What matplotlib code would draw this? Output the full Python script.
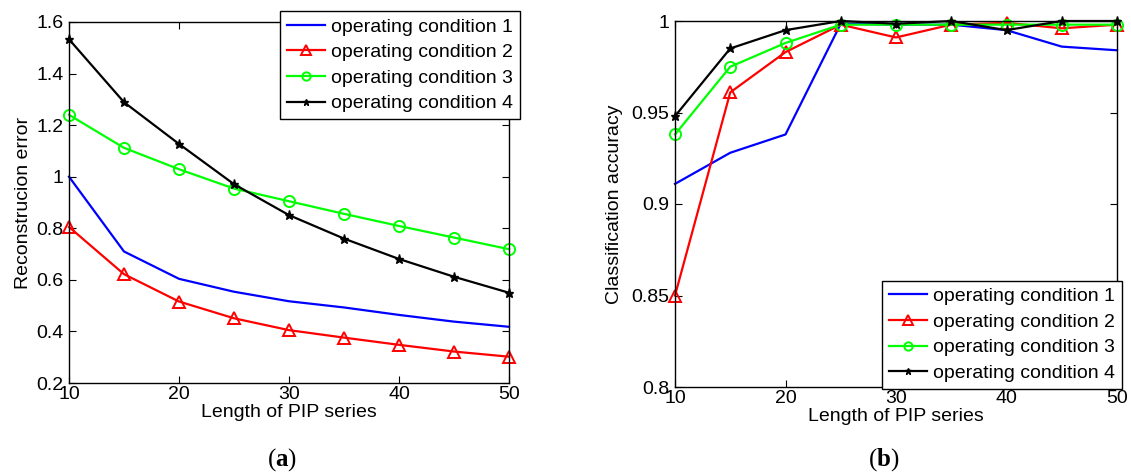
import matplotlib.pyplot as plt
import numpy as np

plt.rcParams['font.family'] = ['Liberation Sans', 'DejaVu Sans']
plt.rcParams['mathtext.fontset'] = 'custom'
plt.rcParams['mathtext.rm'] = 'Liberation Serif'
plt.rcParams['mathtext.bf'] = 'Liberation Serif:bold'

# PIP series length
lengths = [10, 15, 20, 25, 30, 35, 40, 45, 50]
labels = ['operating condition 1', 'operating condition 2',
          'operating condition 3', 'operating condition 4']

# (a) reconstruction error
err_c1 = [1.00, 0.71, 0.604, 0.554, 0.517, 0.493, 0.464, 0.438, 0.418]
err_c2 = [0.805, 0.622, 0.516, 0.451, 0.405, 0.376, 0.348, 0.322, 0.302]
err_c3 = [1.240, 1.112, 1.029, 0.954, 0.905, 0.856, 0.809, 0.764, 0.719]
err_c4 = [1.533, 1.289, 1.127, 0.971, 0.851, 0.760, 0.681, 0.612, 0.550]

# (b) classification accuracy
acc_c1 = [0.911, 0.928, 0.938, 0.9985, 0.998, 0.998, 0.995, 0.986, 0.984]
acc_c2 = [0.850, 0.961, 0.983, 0.998, 0.991, 0.998, 0.999, 0.996, 0.998]
acc_c3 = [0.938, 0.975, 0.988, 0.998, 0.998, 0.998, 0.998, 0.998, 0.998]
acc_c4 = [0.948, 0.985, 0.995, 1.000, 0.9985, 1.000, 0.995, 1.000, 1.000]

W, H = 1131, 474
fig = plt.figure(figsize=(W / 100, H / 100), dpi=100)

def box(l, r, t, b):
    return [l / W, 1 - b / H, (r - l) / W, (b - t) / H]

ax1 = fig.add_axes(box(69, 509, 22, 383))
ax2 = fig.add_axes(box(675, 1117, 21, 387))

styles = [
    dict(color=(0, 0, 1), marker=None),
    dict(color=(1, 0, 0), marker='^', markersize=9, markerfacecolor='none', markeredgewidth=1.4),
    dict(color=(0, 1, 0), marker='o', markersize=8, markerfacecolor='none', markeredgewidth=1.4),
    dict(color='black', marker='*', markersize=6.5, markeredgewidth=1.0),
]

for ax, series in [(ax1, [err_c1, err_c2, err_c3, err_c4]),
                   (ax2, [acc_c1, acc_c2, acc_c3, acc_c4])]:
    for vals, lab, st in zip(series, labels, styles):
        ax.plot(lengths, vals, linewidth=1.6, label=lab, clip_on=False, **st)
    ax.set_xlim(10, 50)
    ax.set_xticks([10, 20, 30, 40, 50])
    ax.tick_params(direction='in', top=True, right=True, labelsize=14,
                   length=5, width=0.8, pad=4)
    ax.tick_params(axis='x', pad=2)
    for s in ax.spines.values():
        s.set_linewidth(1.0)
    ax.set_xlabel('Length of PIP series', fontsize=14, labelpad=1)

ax1.set_ylim(0.2, 1.6)
ax1.set_yticks(np.arange(0.2, 1.61, 0.2))
ax1.set_yticklabels(['0.2', '0.4', '0.6', '0.8', '1', '1.2', '1.4', '1.6'])
ax1.set_ylabel('Reconstrucion error', fontsize=14, labelpad=3)

ax2.set_ylim(0.8, 1.0)
ax2.set_yticks([0.8, 0.85, 0.9, 0.95, 1.0])
ax2.set_yticklabels(['0.8', '0.85', '0.9', '0.95', '1'])
ax2.set_ylabel('Classification accuracy', fontsize=14, labelpad=6)

leg_kw = dict(fontsize=14, frameon=True, fancybox=False, framealpha=1,
              edgecolor='black', handlelength=1.95, handletextpad=0.3,
              borderpad=0.36, labelspacing=0.41, borderaxespad=0,
              markerscale=0.75)
leg1 = ax1.legend(loc='upper right', bbox_to_anchor=(520 / W, 1 - 11 / H),
                  bbox_transform=fig.transFigure, **leg_kw)
leg2 = ax2.legend(loc='lower right', bbox_to_anchor=(1122 / W, 1 - 389 / H),
                  bbox_transform=fig.transFigure, **leg_kw)
for leg in (leg1, leg2):
    leg.get_frame().set_linewidth(1.0)

fig.text(282 / W, 1 - 460 / H, r'($\mathbf{a}$)', fontsize=18,
         family='Liberation Serif', ha='center', va='center')
fig.text(884 / W, 1 - 460 / H, r'($\mathbf{b}$)', fontsize=18,
         family='Liberation Serif', ha='center', va='center')

fig.savefig('out.png', dpi=100)
